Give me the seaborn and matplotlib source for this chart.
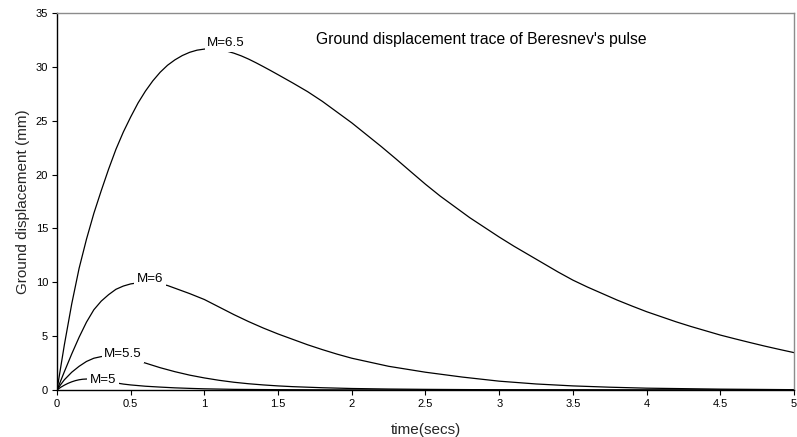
import numpy as np
import pandas as pd
import matplotlib
matplotlib.use("Agg")
import matplotlib.pyplot as plt
import seaborn as sns

# ---- data ----
t_m65 = [0, 0.05, 0.1, 0.15, 0.2, 0.25, 0.3, 0.35, 0.4, 0.45, 0.5, 0.55, 0.6, 0.65, 0.7, 0.75,
         0.8, 0.85, 0.9, 0.95, 1.0, 1.05, 1.1, 1.15, 1.2, 1.25, 1.3, 1.35, 1.4, 1.45, 1.5, 1.6,
         1.7, 1.8, 1.9, 2.0, 2.1, 2.2, 2.3, 2.4, 2.5, 2.6, 2.7, 2.8, 2.9, 3.0, 3.1, 3.2, 3.3,
         3.4, 3.5, 3.6, 3.7, 3.8, 3.9, 4.0, 4.1, 4.2, 4.3, 4.4, 4.5, 4.6, 4.7, 4.8, 4.9, 5.0]
d_m65 = [0, 4.2, 8.0, 11.3, 14.0, 16.4, 18.5, 20.5, 22.35, 23.95, 25.35, 26.65, 27.75, 28.7,
         29.5, 30.15, 30.65, 31.05, 31.35, 31.55, 31.65, 31.7, 31.62, 31.47, 31.27, 31.02,
         30.72, 30.38, 30.02, 29.65, 29.27, 28.5, 27.7, 26.8, 25.8, 24.8, 23.7, 22.6, 21.45,
         20.27, 19.1, 18.0, 17.0, 16.0, 15.1, 14.2, 13.35, 12.55, 11.75, 10.95, 10.2, 9.55,
         8.95, 8.35, 7.8, 7.27, 6.8, 6.33, 5.9, 5.5, 5.1, 4.75, 4.41, 4.08, 3.77, 3.47]

t_m6 = [0, 0.05, 0.1, 0.15, 0.2, 0.25, 0.3, 0.35, 0.4, 0.45, 0.5, 0.55, 0.6, 0.65, 0.7, 0.75,
        0.8, 0.9, 1.0, 1.1, 1.2, 1.3, 1.4, 1.5, 1.6, 1.7, 1.8, 1.9, 2.0, 2.25, 2.5, 2.75, 3.0,
        3.25, 3.5, 3.75, 4.0, 4.5, 5.0]
d_m6 = [0, 1.7, 3.35, 4.9, 6.3, 7.45, 8.25, 8.85, 9.35, 9.65, 9.85, 9.95, 10.0, 9.95, 9.85,
        9.7, 9.45, 8.95, 8.4, 7.7, 7.0, 6.35, 5.75, 5.2, 4.7, 4.2, 3.75, 3.33, 2.95, 2.2, 1.65,
        1.2, 0.82, 0.56, 0.38, 0.26, 0.17, 0.08, 0.03]

t_m55 = [0, 0.025, 0.05, 0.1, 0.15, 0.2, 0.25, 0.3, 0.35, 0.4, 0.45, 0.5, 0.55, 0.6, 0.7, 0.8,
         0.9, 1.0, 1.1, 1.2, 1.3, 1.4, 1.5, 1.6, 1.8, 2.0, 2.25, 2.5, 3.0, 3.5, 4.0, 5.0]
d_m55 = [0, 0.5, 0.95, 1.65, 2.2, 2.65, 2.95, 3.1, 3.18, 3.15, 3.05, 2.9, 2.7, 2.5, 2.07, 1.7,
         1.38, 1.12, 0.9, 0.72, 0.58, 0.47, 0.38, 0.31, 0.21, 0.14, 0.09, 0.06, 0.02, 0.01,
         0.0, 0.0]

t_m5 = [0, 0.025, 0.05, 0.075, 0.1, 0.125, 0.15, 0.175, 0.2, 0.25, 0.3, 0.35, 0.4, 0.45, 0.5,
        0.6, 0.7, 0.8, 0.9, 1.0, 1.2, 1.5, 2.0, 3.0, 5.0]
d_m5 = [0, 0.25, 0.45, 0.62, 0.76, 0.87, 0.95, 1.0, 1.02, 1.0, 0.92, 0.8, 0.66, 0.55, 0.47,
        0.35, 0.27, 0.2, 0.15, 0.11, 0.06, 0.03, 0.01, 0.0, 0.0]

series_names = ["M=6.5", "M=6", "M=5.5", "M=5"]
label_x = [1.146, 0.63, 0.448, 0.312]
label_y = [32.2, 10.3, 3.31, 0.93]

x_ticks = [0, 0.5, 1, 1.5, 2, 2.5, 3, 3.5, 4, 4.5, 5]
x_tick_labels = ["0", "0.5", "1", "1.5", "2", "2.5", "3", "3.5", "4", "4.5", "5"]
y_ticks = [0, 5, 10, 15, 20, 25, 30, 35]

title_text = "Ground displacement trace of Beresnev's pulse"
x_label = "time(secs)"
y_label = "Ground displacement (mm)"

frames = []
for name, t, d in zip(series_names, [t_m65, t_m6, t_m55, t_m5], [d_m65, d_m6, d_m55, d_m5]):
    frames.append(pd.DataFrame({"t": t, "d": d, "M": name}))
df = pd.concat(frames, ignore_index=True)

# ---- plot ----
sns.set_theme(style="white")
plt.rcParams["font.family"] = ["Liberation Sans", "DejaVu Sans"]

fig = plt.figure(figsize=(7.97, 4.37), dpi=100)
ax = fig.add_axes([57 / 797, 1 - 390 / 437, 737 / 797, 377 / 437])

sns.lineplot(data=df, x="t", y="d", hue="M", palette=["black"] * 4,
             estimator=None, sort=False, linewidth=0.9, legend=False, ax=ax)

for name, lx, ly in zip(series_names, label_x, label_y):
    ax.text(lx, ly, name, ha="center", va="center", fontsize=9.6, color="black",
            bbox=dict(facecolor="white", edgecolor="none", pad=1.8), zorder=5)

ax.text(2.88, 32.5, title_text, ha="center", va="center", fontsize=11.3, color="black")

ax.set_xlim(0, 5)
ax.set_ylim(0, 35)
ax.set_xticks(x_ticks)
ax.set_xticklabels(x_tick_labels)
ax.set_yticks(y_ticks)
ax.tick_params(axis="both", which="major", direction="out", length=3.5, width=0.8,
               labelsize=8, pad=3, colors="black", bottom=True, left=True)
ax.set_xlabel(x_label, fontsize=11, labelpad=10)
ax.set_ylabel(y_label, fontsize=11, labelpad=4)

for side in ["left", "bottom"]:
    ax.spines[side].set_color("black")
    ax.spines[side].set_linewidth(1.0)
for side in ["top", "right"]:
    ax.spines[side].set_color("#8c8c8c")
    ax.spines[side].set_linewidth(1.0)
ax.grid(False)

fig.savefig("out.png", dpi=100)
